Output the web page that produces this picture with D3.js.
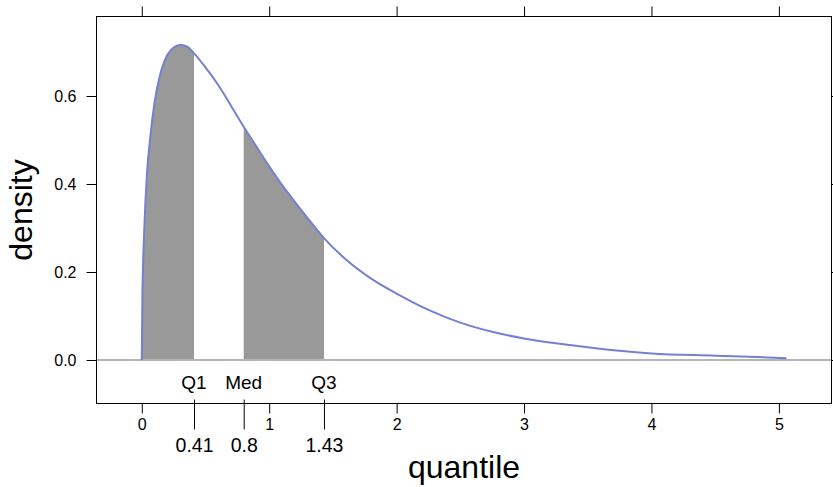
<!DOCTYPE html>
<html>
<head>
<meta charset="utf-8">
<script src="https://cdn.jsdelivr.net/npm/d3@7"></script>
<style>
  html, body { margin: 0; padding: 0; background: #fff; }
  svg { display: block; font-family: "Liberation Sans", Arial, Helvetica, sans-serif; }
</style>
</head>
<body>
<svg id="chart" width="833" height="487"></svg>
<script>
// ---- data ----
const quantileX = [0, 0.005, 0.01, 0.02, 0.04, 0.07, 0.1, 0.15, 0.2, 0.25, 0.3, 0.35, 0.41,
  0.5, 0.6, 0.7, 0.8, 0.9, 1.0, 1.1, 1.2, 1.3, 1.43, 1.6, 1.8, 2.0, 2.25, 2.5, 2.75,
  3.0, 3.25, 3.5, 3.75, 4.0, 4.5, 5.06];
const densityY = [0, 0.15, 0.215, 0.30, 0.42, 0.515, 0.585, 0.655, 0.693, 0.71, 0.716, 0.713, 0.697,
  0.665, 0.625, 0.578, 0.53, 0.485, 0.44, 0.398, 0.36, 0.323, 0.277, 0.229, 0.185, 0.151, 0.114, 0.085, 0.064,
  0.049, 0.038, 0.029, 0.021, 0.015, 0.0098, 0.0042];
const quartileValues = [0.41, 0.8, 1.43];
const quartileNames = ["Q1", "Med", "Q3"];
const quartileLabels = ["0.41", "0.8", "1.43"];
const xTickValues = [0, 1, 2, 3, 4, 5];
const yTickValues = [0, 0.2, 0.4, 0.6];
const yTickLabels = ["0.0", "0.2", "0.4", "0.6"];
const shadedRanges = [[0, 0.41], [0.8, 1.43]];

const points = quantileX.map((q, i) => ({ q: q, d: densityY[i] }));

// ---- layout ----
const svg = d3.select("#chart");
const P = { left: 96.5, right: 831.5, top: 16.5, bottom: 403.5 };
const x = d3.scaleLinear().domain([-0.3553, 5.413]).range([P.left, P.right]);
const y = d3.scaleLinear().domain([-0.0989, 0.7807]).range([P.bottom, P.top]);

const lineCol = "#7480d0";
const fillCol = "#999999";
const refCol = "#b5b5b5";

const clipId = "panelclip";
svg.append("defs").append("clipPath").attr("id", clipId)
  .append("rect").attr("x", P.left).attr("y", P.top)
  .attr("width", P.right - P.left).attr("height", P.bottom - P.top);

const panel = svg.append("g").attr("clip-path", `url(#${clipId})`);

// shaded areas
const area = d3.area().x(d => x(d.q)).y0(y(0)).y1(d => y(d.d)).curve(d3.curveMonotoneX);
shadedRanges.forEach(r => {
  const sub = points.filter(p => p.q >= r[0] - 1e-9 && p.q <= r[1] + 1e-9);
  panel.append("path").datum(sub).attr("d", area).attr("fill", fillCol).attr("stroke", "none");
});

// reference line at 0
panel.append("line")
  .attr("x1", P.left).attr("x2", P.right)
  .attr("y1", y(0)).attr("y2", y(0))
  .attr("stroke", refCol).attr("stroke-width", 2);

// density curve
const line = d3.line().x(d => x(d.q)).y(d => y(d.d)).curve(d3.curveMonotoneX);
panel.append("path").datum(points).attr("d", line)
  .attr("fill", "none").attr("stroke", lineCol).attr("stroke-width", 2);

// quartile names inside panel
svg.append("g").selectAll("text").data(quartileValues).join("text")
  .attr("x", d => x(d)).attr("y", 389)
  .attr("text-anchor", "middle").attr("font-size", 19).attr("fill", "#000")
  .text((d, i) => quartileNames[i]);

// panel border
svg.append("rect").attr("x", P.left).attr("y", P.top)
  .attr("width", P.right - P.left).attr("height", P.bottom - P.top)
  .attr("fill", "none").attr("stroke", "#000").attr("stroke-width", 1);

// axes
function styleAxis(g) {
  g.select(".domain").remove();
  g.selectAll(".tick line").attr("stroke", "#000").attr("stroke-width", 1);
  g.selectAll(".tick text").attr("fill", "#000").attr("font-family", null);
}

const xb = svg.append("g").attr("transform", `translate(0,${P.bottom})`)
  .call(d3.axisBottom(x).tickValues(xTickValues).tickFormat(d3.format("d")).tickSize(10).tickPadding(5));
styleAxis(xb);
xb.selectAll(".tick text").attr("font-size", 16);

const xt = svg.append("g").attr("transform", `translate(0,${P.top})`)
  .call(d3.axisTop(x).tickValues(xTickValues).tickFormat("").tickSize(10));
styleAxis(xt);

const yl = svg.append("g").attr("transform", `translate(${P.left},0)`)
  .call(d3.axisLeft(y).tickValues(yTickValues).tickFormat((d, i) => yTickLabels[i]).tickSize(10).tickPadding(10));
styleAxis(yl);
yl.selectAll(".tick text").attr("font-size", 16);

const yr = svg.append("g").attr("transform", `translate(${P.right},0)`)
  .call(d3.axisRight(y).tickValues(yTickValues).tickFormat("").tickSize(10));
styleAxis(yr);

// quartile axis
const qa = svg.append("g").attr("transform", `translate(0,${P.bottom - 4})`)
  .call(d3.axisBottom(x).tickValues(quartileValues).tickFormat((d, i) => quartileLabels[i]).tickSize(30).tickPadding(9));
styleAxis(qa);
qa.selectAll(".tick text").attr("font-size", 19.5);

// axis titles
svg.append("text").attr("x", (P.left + P.right) / 2).attr("y", 478)
  .attr("text-anchor", "middle").attr("font-size", 32).attr("fill", "#000").text("quantile");
svg.append("text")
  .attr("transform", `translate(32,${(P.top + P.bottom) / 2}) rotate(-90)`)
  .attr("text-anchor", "middle").attr("font-size", 32).attr("fill", "#000").text("density");
</script>
</body>
</html>
